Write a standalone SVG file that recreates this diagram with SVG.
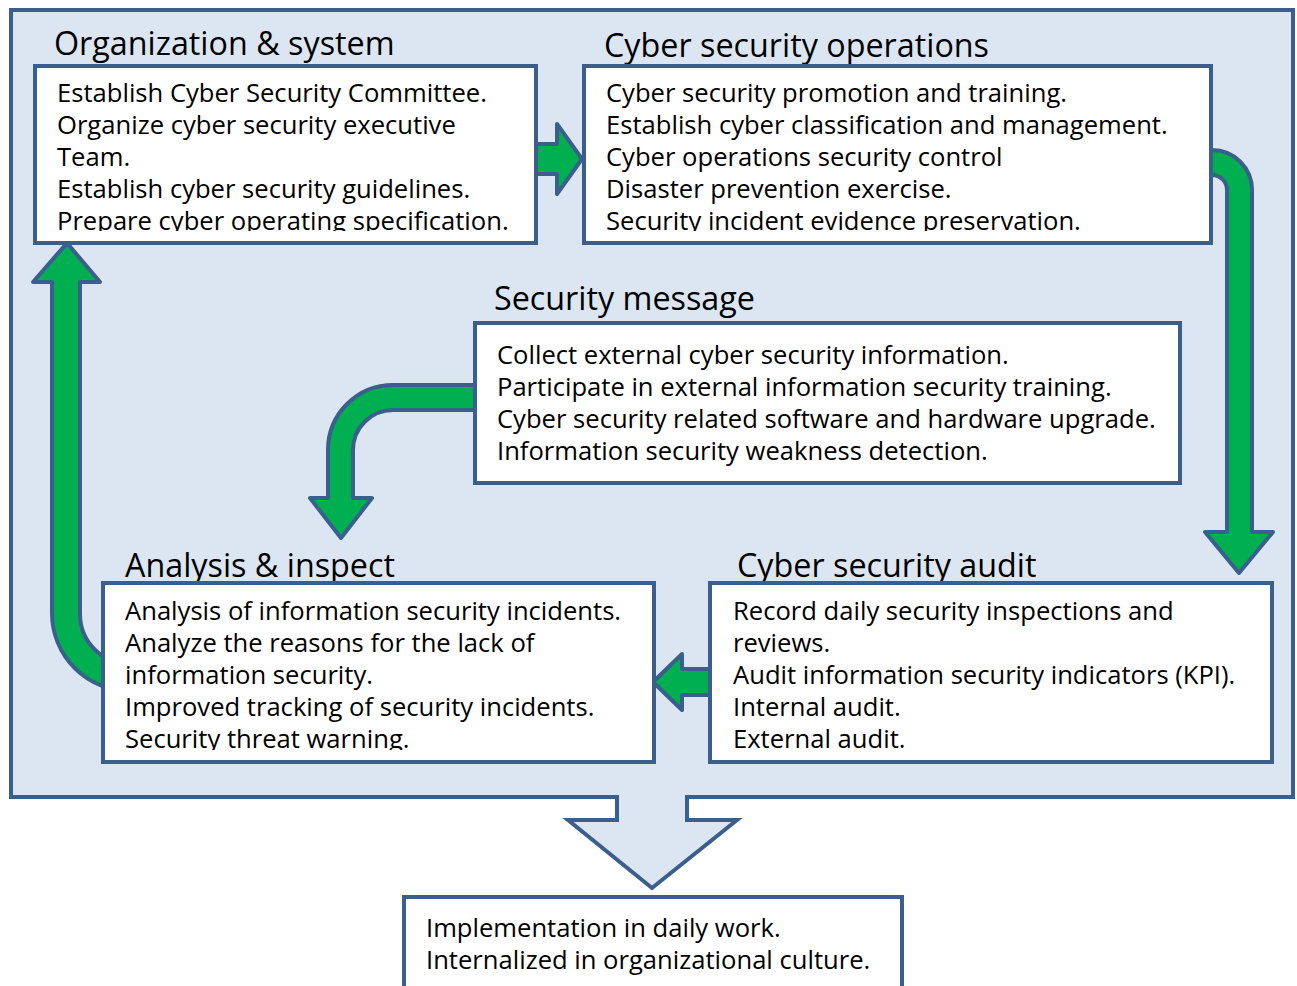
<svg xmlns="http://www.w3.org/2000/svg" width="1297" height="986" viewBox="0 0 1297 986">
<style>
.box{fill:#ffffff;stroke:#3b5f8c;stroke-width:4}
.arr{fill:#00b050;stroke:#3b5f8c;stroke-width:4;stroke-linejoin:round}
.title{font-family:"Open Sans","Liberation Sans",sans-serif;font-size:32.3px;fill:#000}
.body{font-family:"Open Sans","Liberation Sans",sans-serif;font-size:25.6px;fill:#000}
</style>
<defs>
<clipPath id="c1"><rect x="37" y="68" width="497" height="163"/></clipPath>
<clipPath id="c2"><rect x="586" y="68" width="623" height="163"/></clipPath>
<clipPath id="c4"><rect x="105" y="585" width="547" height="165"/></clipPath>
<clipPath id="c5"><rect x="712" y="585" width="558" height="165"/></clipPath>
</defs>
<rect x="0" y="0" width="1297" height="986" fill="#ffffff"/>
<rect x="11" y="10" width="1282" height="787" fill="#dce6f2" stroke="#3b5f8c" stroke-width="4"/>
<g id="connectors">
<path class="arr" d="M530,144 H557 V124 L582,159 L557,194 V174 H530 Z"/>
<path class="arr" d="M1200,150 H1212 A40,40 0 0 1 1252,190 V532 H1273 L1239,573 L1205,532 H1227 V190 A15,15 0 0 0 1212,175 H1200 Z"/>
<path class="arr" d="M480,385 H393 A65,65 0 0 0 328,450 V498 H310 L341,538 L372,498 H353 V450 A40,40 0 0 1 393,410 H480 Z"/>
<path class="arr" d="M716,669 H682 V654 L653,682 L682,710 V695 H716 Z"/>
<path class="arr" d="M52,282 H33 L67,243 L100,282 H80 V614 A50,50 0 0 0 130,664 H140 V691 H130 A78,78 0 0 1 52,614 Z"/>
<path d="M617,797 V820 H568 L652,888 L737,820 H687 V797" fill="#dce6f2" stroke="#3b5f8c" stroke-width="4" stroke-linejoin="miter"/>
<rect x="619" y="793" width="66" height="8" fill="#dce6f2"/>
</g>
<g id="org">
<text class="title" x="54" y="55">Organization &amp; system</text>
<rect class="box" x="35" y="66" width="501" height="177"/>
<g clip-path="url(#c1)" class="body">
<text x="57" y="102">Establish Cyber Security Committee.</text>
<text x="57" y="134">Organize cyber security executive</text>
<text x="57" y="166">Team.</text>
<text x="57" y="198">Establish cyber security guidelines.</text>
<text x="57" y="230">Prepare cyber operating specification.</text>
</g>
</g>
<g id="ops">
<text class="title" x="604" y="57">Cyber security operations</text>
<rect class="box" x="584" y="66" width="627" height="177"/>
<g clip-path="url(#c2)" class="body">
<text x="606" y="102">Cyber security promotion and training.</text>
<text x="606" y="134">Establish cyber classification and management.</text>
<text x="606" y="166">Cyber operations security control</text>
<text x="606" y="198">Disaster prevention exercise.</text>
<text x="606" y="230">Security incident evidence preservation.</text>
</g>
</g>
<g id="msg">
<text class="title" x="494" y="310">Security message</text>
<rect class="box" x="475" y="323" width="705" height="160"/>
<g class="body">
<text x="497" y="364">Collect external cyber security information.</text>
<text x="497" y="396">Participate in external information security training.</text>
<text x="497" y="428">Cyber security related software and hardware upgrade.</text>
<text x="497" y="460">Information security weakness detection.</text>
</g>
</g>
<g id="analysis">
<text class="title" x="125" y="577">Analysis &amp; inspect</text>
<rect class="box" x="103" y="583" width="551" height="179"/>
<g clip-path="url(#c4)" class="body">
<text x="125" y="620">Analysis of information security incidents.</text>
<text x="125" y="652">Analyze the reasons for the lack of</text>
<text x="125" y="684">information security.</text>
<text x="125" y="716">Improved tracking of security incidents.</text>
<text x="125" y="748">Security threat warning.</text>
</g>
</g>
<g id="audit">
<text class="title" x="737" y="577">Cyber security audit</text>
<rect class="box" x="710" y="583" width="562" height="179"/>
<g clip-path="url(#c5)" class="body">
<text x="733" y="620">Record daily security inspections and</text>
<text x="733" y="652">reviews.</text>
<text x="733" y="684">Audit information security indicators (KPI).</text>
<text x="733" y="716">Internal audit.</text>
<text x="733" y="748">External audit.</text>
</g>
</g>
<g id="result">
<rect class="box" x="404" y="897" width="498" height="100"/>
<g class="body">
<text x="426" y="937">Implementation in daily work.</text>
<text x="426" y="969">Internalized in organizational culture.</text>
</g>
</g>
</svg>
